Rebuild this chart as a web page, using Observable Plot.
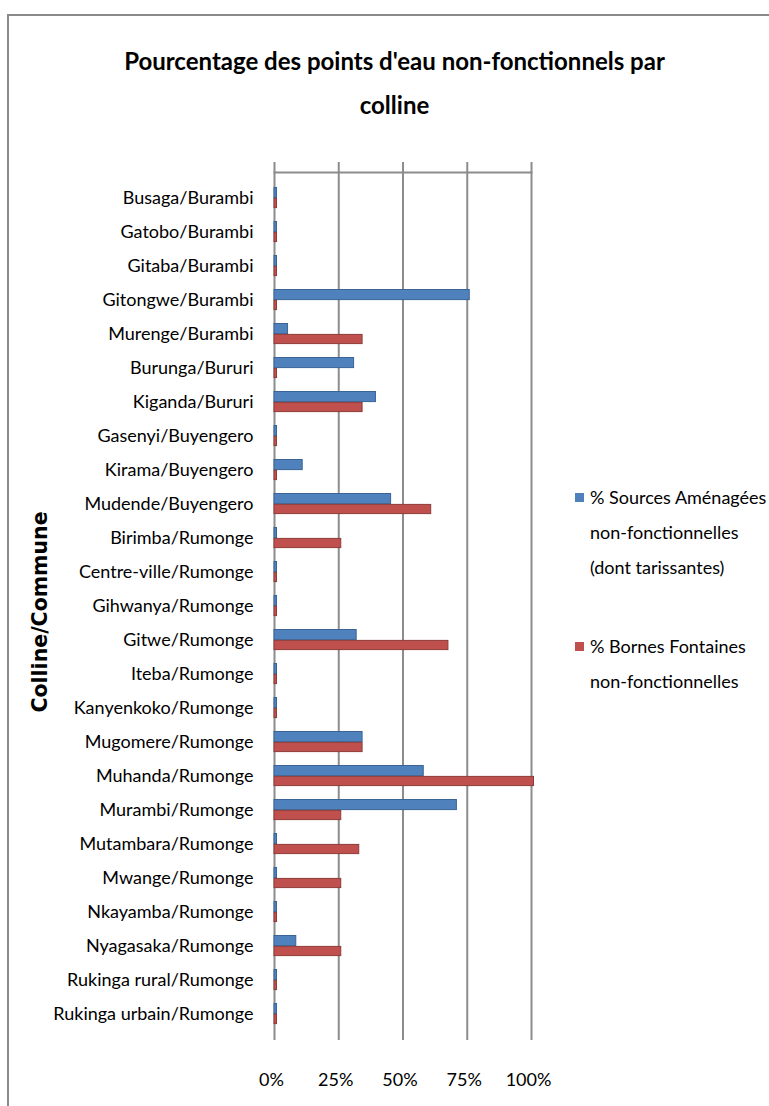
<!DOCTYPE html>
<html>
<head>
<meta charset="utf-8">
<script src="https://cdn.jsdelivr.net/npm/d3@7"></script>
<script src="https://cdn.jsdelivr.net/npm/@observablehq/plot@0.6"></script>
<style>
  html, body { margin: 0; padding: 0; background: #fff; }
  #wrap { position: relative; width: 769px; height: 1106px; overflow: hidden; font-family: Lato, "Open Sans", sans-serif; }
  #border { position: absolute; left: 7px; top: 14px; right: -10px; bottom: -10px; border-left: 2px solid #8a8a8a; border-top: 2px solid #8a8a8a; }
  #title { position: relative; height: 140px; box-sizing: border-box; padding-top: 39px; padding-left: 20px; text-align: center; font-weight: bold; font-size: 24px; line-height: 44px; color: #000; }
  #ytitle { position: absolute; left: 40px; top: 612px; transform: translate(-50%, -50%) rotate(-90deg); white-space: nowrap; font-family: "DejaVu Sans", sans-serif; font-weight: bold; font-size: 20.5px; color: #000; }
  #legend { position: absolute; left: 575px; top: 480px; font-size: 18px; line-height: 35px; color: #000; white-space: nowrap; }
  .item { position: relative; padding-left: 15px; }
  .sw { position: absolute; left: 0; top: 13px; width: 9px; height: 9px; }
</style>
</head>
<body>
<div id="wrap">
  <div id="border"></div>
  <div id="title">Pourcentage des points d'eau non-fonctionnels par<br>colline</div>
  <div id="chart"></div>
  <div id="ytitle">Colline/Commune</div>
  <div id="legend"></div>
</div>
<script>
const collines = [
  "Busaga/Burambi", "Gatobo/Burambi", "Gitaba/Burambi", "Gitongwe/Burambi", "Murenge/Burambi",
  "Burunga/Bururi", "Kiganda/Bururi", "Gasenyi/Buyengero", "Kirama/Buyengero", "Mudende/Buyengero",
  "Birimba/Rumonge", "Centre-ville/Rumonge", "Gihwanya/Rumonge", "Gitwe/Rumonge", "Iteba/Rumonge",
  "Kanyenkoko/Rumonge", "Mugomere/Rumonge", "Muhanda/Rumonge", "Murambi/Rumonge", "Mutambara/Rumonge",
  "Mwange/Rumonge", "Nkayamba/Rumonge", "Nyagasaka/Rumonge", "Rukinga rural/Rumonge", "Rukinga urbain/Rumonge"
];
const sources = [0, 0, 0, 75, 4.3, 30, 38.5, 0, 10, 44.4, 0, 0, 0, 31, 0, 0, 33.3, 57.1, 70, 0, 0, 0, 7.5, 0, 0];
const bornes  = [0, 0, 0, 0, 33.3, 0, 33.3, 0, 0, 60, 25, 0, 0, 66.7, 0, 0, 33.3, 100, 25, 32, 25, 0, 25, 0, 0];
const seriesNames = ["% Sources Aménagées non-fonctionnelles (dont tarissantes)", "% Bornes Fontaines non-fonctionnelles"];
const legendLines = [["% Sources Aménagées", "non-fonctionnelles", "(dont tarissantes)"], ["% Bornes Fontaines", "non-fonctionnelles"]];
const colors = ["#4F81BD", "#C0504D"];
const strokes = ["#3A6496", "#8E3B39"];
const xTicks = [0, 25, 50, 75, 100];

const srcData = collines.map((c, i) => ({colline: c, value: sources[i]}));
const bfData = collines.map((c, i) => ({colline: c, value: bornes[i]}));

const chart = Plot.plot({
  width: 769,
  height: 966,
  marginTop: 32,
  marginBottom: 66,
  marginLeft: 274,
  marginRight: 238,
  style: {fontFamily: "Lato, 'Open Sans', sans-serif", fontSize: "18px", color: "#000", background: "transparent", overflow: "visible"},
  x: {domain: [0, 100], ticks: xTicks, tickFormat: d => d + "%"},
  y: {domain: collines, padding: 0},
  marks: [
    Plot.ruleX(xTicks, {stroke: "#8c8c8c", strokeWidth: 2, insetTop: -10}),
    Plot.frame({anchor: "top", stroke: "#8c8c8c", strokeWidth: 2}),
    Plot.barX(srcData, {y: "colline", x1: 0, x2: "value", fill: colors[0], stroke: strokes[0], strokeWidth: 1, insetTop: 6.5, insetBottom: 17.4, insetRight: -2.5}),
    Plot.barX(bfData, {y: "colline", x1: 0, x2: "value", fill: colors[1], stroke: strokes[1], strokeWidth: 1, insetTop: 17.4, insetBottom: 7.4, insetRight: -2.5}),
    Plot.axisY({tickSize: 0, tickPadding: 21, label: null, fontSize: 18}),
    Plot.axisX({ticks: xTicks, tickFormat: d => d + "%", tickSize: 0, tickPadding: 33, label: null, fontSize: 18, dx: -3})
  ]
});
document.getElementById("chart").appendChild(chart);

const legend = document.getElementById("legend");
legendLines.forEach((lines, i) => {
  const div = document.createElement("div");
  div.className = "item";
  div.style.marginBottom = i === 0 ? "44px" : "0";
  div.title = seriesNames[i];
  const sw = document.createElement("span");
  sw.className = "sw";
  sw.style.background = colors[i];
  div.appendChild(sw);
  lines.forEach(l => { const d = document.createElement("div"); d.textContent = l; div.appendChild(d); });
  legend.appendChild(div);
});
</script>
</body>
</html>
